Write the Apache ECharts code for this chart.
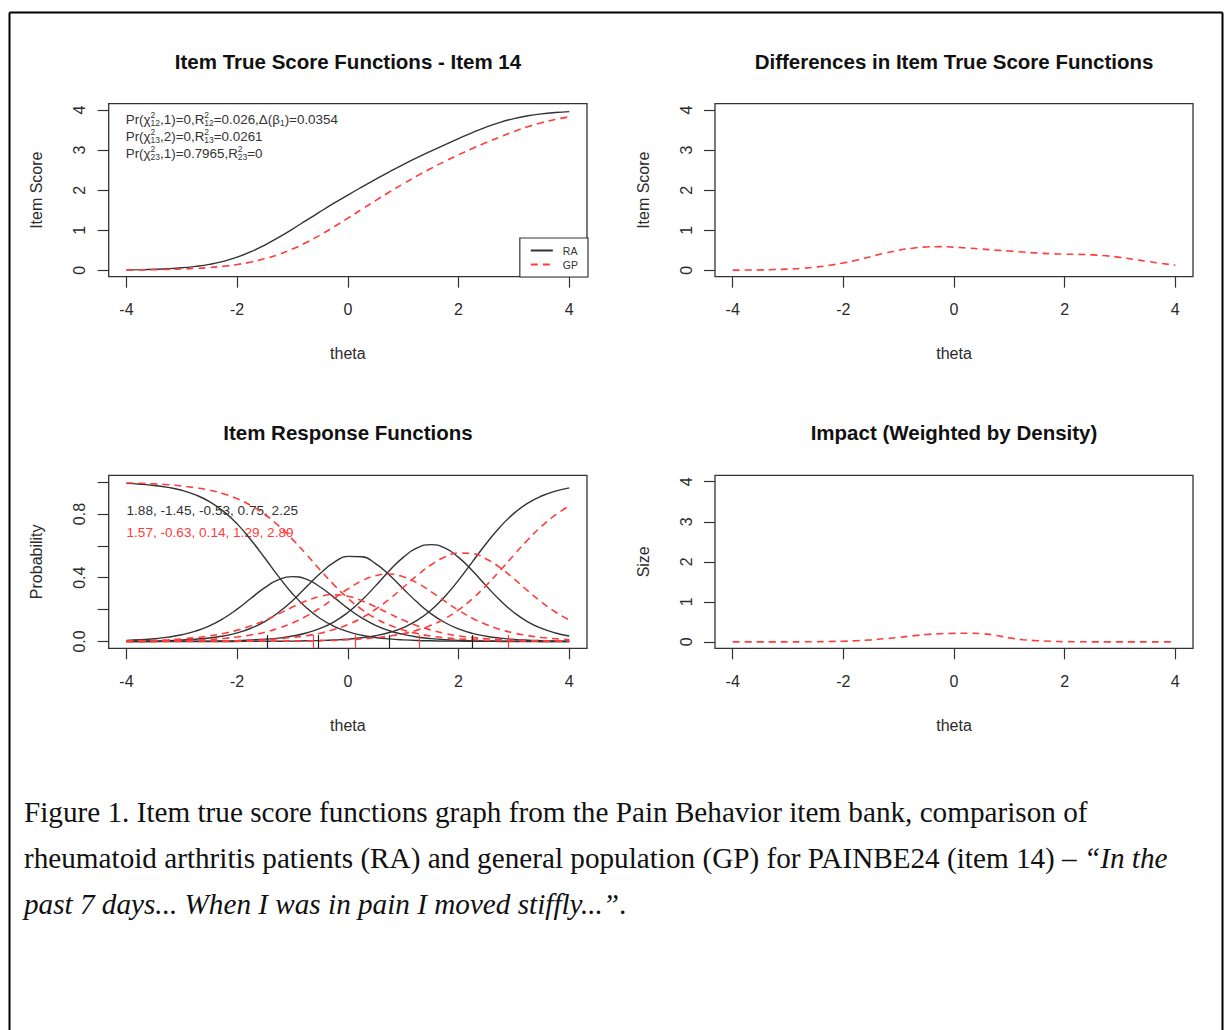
<!DOCTYPE html>
<html><head><meta charset="utf-8">
<script src="https://cdn.jsdelivr.net/npm/echarts@6/dist/echarts.min.js"></script>
<style>html,body{margin:0;padding:0;background:#fff}#c{width:1231px;height:1030px}</style>
</head><body><div id="c"></div>
<script>
// ---------- data ----------
const theta = [-4,-3.75,-3.5,-3.25,-3,-2.75,-2.5,-2.25,-2,-1.75,-1.5,-1.25,-1,-0.75,-0.5,-0.25,0,0.25,0.5,0.75,1,1.25,1.5,1.75,2,2.25,2.5,2.75,3,3.25,3.5,3.75,4];
const thetaTicks = [-4,-2,0,2,4];
const scoreTicks = [0,1,2,3,4];
const probTicks = [0,0.2,0.4,0.6,0.8,1.0];
const probLabels = [0,0.4,0.8];

const raScore = [0.010,0.016,0.025,0.039,0.062,0.097,0.148,0.224,0.328,0.464,0.631,0.822,1.030,1.246,1.463,1.675,1.879,2.077,2.270,2.458,2.639,2.811,2.975,3.133,3.288,3.438,3.576,3.694,3.788,3.858,3.907,3.940,3.962];
const gpScore = [0.007,0.010,0.015,0.022,0.032,0.047,0.069,0.100,0.144,0.205,0.288,0.395,0.531,0.694,0.881,1.086,1.301,1.521,1.740,1.954,2.159,2.357,2.543,2.719,2.885,3.041,3.190,3.332,3.465,3.584,3.686,3.769,3.834];
const scoreDiff = [0.003,0.006,0.010,0.018,0.030,0.049,0.080,0.124,0.184,0.259,0.343,0.427,0.499,0.552,0.583,0.590,0.578,0.555,0.530,0.504,0.480,0.455,0.431,0.414,0.403,0.397,0.385,0.362,0.323,0.274,0.221,0.171,0.128];
const impact = [0,0,0,0,0.001,0.002,0.005,0.010,0.017,0.030,0.050,0.080,0.110,0.150,0.185,0.205,0.212,0.215,0.205,0.165,0.100,0.055,0.030,0.015,0.007,0.003,0.001,0,0,0,0,0,0];

const raCat1 = [0.992,0.987,0.979,0.967,0.949,0.920,0.878,0.818,0.738,0.637,0.524,0.407,0.300,0.212,0.144,0.095,0.062,0.039,0.025,0.016,0.010,0.006,0.004,0.002,0.002,0.001,0.001,0,0,0,0,0,0];
const raCat2 = [0.007,0.011,0.017,0.027,0.042,0.065,0.098,0.144,0.203,0.271,0.338,0.388,0.407,0.391,0.342,0.277,0.208,0.148,0.101,0.067,0.044,0.028,0.018,0.011,0.007,0.004,0.003,0.002,0.001,0.001,0,0,0];
const raCat3 = [0.001,0.002,0.003,0.005,0.009,0.014,0.022,0.034,0.054,0.083,0.125,0.183,0.256,0.342,0.427,0.496,0.534,0.532,0.489,0.417,0.331,0.247,0.175,0.119,0.079,0.051,0.033,0.021,0.013,0.008,0.005,0.003,0.002];
const raCat4 = [0,0,0,0.001,0.001,0.001,0.002,0.003,0.005,0.009,0.014,0.021,0.034,0.053,0.082,0.123,0.182,0.258,0.349,0.444,0.528,0.587,0.608,0.587,0.528,0.444,0.349,0.258,0.182,0.123,0.082,0.053,0.034];
const raCat5 = [0,0,0,0,0,0,0,0,0,0.001,0.001,0.001,0.002,0.004,0.006,0.009,0.014,0.023,0.036,0.056,0.087,0.132,0.196,0.281,0.385,0.500,0.615,0.719,0.804,0.868,0.913,0.944,0.964];

const gpCat1 = [0.995,0.993,0.989,0.984,0.976,0.965,0.950,0.927,0.896,0.853,0.797,0.726,0.641,0.547,0.449,0.355,0.271,0.201,0.145,0.103,0.072,0.050,0.034,0.023,0.016,0.011,0.007,0.005,0.003,0.002,0.002,0.001,0.001];
const gpCat2 = [0.004,0.005,0.008,0.011,0.016,0.024,0.035,0.050,0.071,0.098,0.133,0.173,0.216,0.255,0.283,0.293,0.284,0.256,0.217,0.175,0.134,0.099,0.072,0.051,0.035,0.024,0.017,0.011,0.008,0.005,0.004,0.002,0.002];
const gpCat3 = [0.001,0.002,0.003,0.004,0.006,0.009,0.013,0.019,0.028,0.041,0.058,0.083,0.116,0.159,0.211,0.270,0.329,0.380,0.413,0.423,0.406,0.367,0.313,0.253,0.196,0.146,0.106,0.075,0.053,0.037,0.025,0.017,0.012];
const gpCat4 = [0,0,0.001,0.001,0.001,0.002,0.002,0.004,0.005,0.008,0.011,0.017,0.025,0.036,0.052,0.075,0.106,0.148,0.202,0.266,0.339,0.414,0.480,0.530,0.555,0.551,0.518,0.463,0.393,0.318,0.247,0.185,0.135];
const gpCat5 = [0,0,0,0,0,0,0,0,0.001,0.001,0.001,0.002,0.002,0.003,0.005,0.007,0.011,0.016,0.023,0.034,0.049,0.071,0.101,0.143,0.198,0.268,0.352,0.445,0.543,0.638,0.723,0.794,0.851];

const raParams = [1.88, -1.45, -0.53, 0.75, 2.25];
const gpParams = [1.57, -0.63, 0.14, 1.29, 2.89];

// ---------- styling ----------
const F = '"Liberation Sans", Arial, Helvetica, sans-serif';
const SERIF = '"Liberation Serif", "Times New Roman", serif';
const INK = '#2b2b2b';
const BLACK = '#333333';
const RED = '#ff3b3b';

const pairs = a => theta.map((t, i) => [t, a[i]]);

const gridBoxes = [
  {left: 108.7, top: 103.7, width: 478.3, height: 173},
  {left: 715,   top: 103.7, width: 478,   height: 173},
  {left: 108.7, top: 475.3, width: 478.3, height: 173},
  {left: 715,   top: 475.3, width: 478,   height: 173}
];
const grids = gridBoxes.map(g => Object.assign({show: true, borderColor: '#333', borderWidth: 1.3, backgroundColor: 'transparent'}, g));

function xAx(gi) {
  return {
    gridIndex: gi, type: 'value', min: -4.32, max: 4.32,
    axisLine: {show: false, onZero: false}, splitLine: {show: false},
    axisTick: {show: true, customValues: thetaTicks, length: 11, lineStyle: {color: '#333', width: 1.2}},
    axisLabel: {customValues: thetaTicks, margin: 25, fontSize: 16, color: INK, fontFamily: F},
    name: 'theta', nameLocation: 'middle', nameGap: 69,
    nameTextStyle: {fontSize: 16, color: INK, fontFamily: F}
  };
}
function yAx(gi, min, max, ticks, labels, name, fmt) {
  return {
    gridIndex: gi, type: 'value', min: min, max: max,
    axisLine: {show: false, onZero: false}, splitLine: {show: false},
    axisTick: {show: true, customValues: ticks, length: 11, lineStyle: {color: '#333', width: 1.2}},
    axisLabel: {customValues: labels, rotate: 90, margin: 21, fontSize: 16, color: INK, fontFamily: F, formatter: fmt},
    name: name, nameLocation: 'middle', nameGap: 64,
    nameTextStyle: {fontSize: 16, color: INK, fontFamily: F}
  };
}

function solid(name, gi, arr) {
  return {type: 'line', name: name, xAxisIndex: gi, yAxisIndex: gi, data: pairs(arr),
    symbol: 'none', showSymbol: false, smooth: true, silent: true,
    lineStyle: {color: BLACK, width: 1.4, type: 'solid'}, itemStyle: {color: BLACK}};
}
function dashed(name, gi, arr) {
  return {type: 'line', name: name, xAxisIndex: gi, yAxisIndex: gi, data: pairs(arr),
    symbol: 'none', showSymbol: false, smooth: true, silent: true,
    lineStyle: {color: RED, width: 1.6, type: [7, 5]}, itemStyle: {color: RED}};
}
function rug(vals, color) {
  return {silent: true, symbol: 'none', animation: false, label: {show: false},
    lineStyle: {color: color, width: 1.2, type: 'solid'},
    data: vals.map(v => [{coord: [v, -0.043]}, {coord: [v, 0.04]}])};
}

const raCurve1 = solid('RA cat 1', 2, raCat1); raCurve1.markLine = rug(raParams.slice(1), '#222');
const gpCurve1 = dashed('GP cat 1', 2, gpCat1); gpCurve1.markLine = rug(gpParams.slice(1), RED);

const series = [
  solid('RA', 0, raScore),
  dashed('GP', 0, gpScore),
  dashed('Difference', 1, scoreDiff),
  raCurve1, solid('RA cat 2', 2, raCat2), solid('RA cat 3', 2, raCat3), solid('RA cat 4', 2, raCat4), solid('RA cat 5', 2, raCat5),
  gpCurve1, dashed('GP cat 2', 2, gpCat2), dashed('GP cat 3', 2, gpCat3), dashed('GP cat 4', 2, gpCat4), dashed('GP cat 5', 2, gpCat5),
  dashed('Impact', 3, impact)
];

// ---------- free text ----------
function txt(x, y, text, font, fill, align) {
  return {type: 'text', x: x, y: y, silent: true,
    style: {text: text, font: font, fill: fill, align: align || 'left', verticalAlign: 'middle',
            textAlign: align || 'left', textVerticalAlign: 'middle'}};
}
const annoRich = {
  n:  {fontSize: 13.4, fontFamily: F, fill: '#333', color: '#333', lineHeight: 17, verticalAlign: 'middle'},
  sp: {fontSize: 8.5, fontFamily: F, fill: '#333', color: '#333', lineHeight: 8.5, width: 0, verticalAlign: 'top'},
  sb: {fontSize: 8.5, fontFamily: F, fill: '#333', color: '#333', lineHeight: 8.5, verticalAlign: 'bottom'}
};
function anno(y, text) {
  return {type: 'text', x: 125.7, y: y, silent: true,
    style: {text: text, rich: annoRich, align: 'left', verticalAlign: 'middle', textAlign: 'left', textVerticalAlign: 'middle'}};
}
const CAP = 29.2;
const capRich = {
  n: {fontSize: CAP, fontFamily: SERIF, fill: '#111', color: '#111'},
  i: {fontSize: CAP, fontFamily: SERIF, fontStyle: 'italic', fill: '#111', color: '#111'}
};
function cap(y, text) {
  return {type: 'text', x: 24, y: y, silent: true,
    style: {text: text, rich: capRich, align: 'left', verticalAlign: 'middle', textAlign: 'left', textVerticalAlign: 'middle'}};
}
const TF = 'bold 20.5px ' + F;
const graphic = [
  {type: 'line', silent: true, shape: {x1: 9.5, y1: 12.5, x2: 9.5, y2: 1030}, style: {stroke: '#000', lineWidth: 2}},
  {type: 'line', silent: true, shape: {x1: 9.5, y1: 12.5, x2: 1222.5, y2: 12.5}, style: {stroke: '#000', lineWidth: 2}},
  {type: 'line', silent: true, shape: {x1: 1222.5, y1: 12.5, x2: 1222.5, y2: 1030}, style: {stroke: '#000', lineWidth: 2}},
  txt(348, 61, 'Item True Score Functions - Item 14', TF, '#111', 'center'),
  txt(954, 61, 'Differences in Item True Score Functions', TF, '#111', 'center'),
  txt(348, 432.7, 'Item Response Functions', TF, '#111', 'center'),
  txt(954, 432.7, 'Impact (Weighted by Density)', TF, '#111', 'center'),
  anno(119, '{n|Pr(χ}{sp|2}{sb|12}{n|,1)=0,R}{sp|2}{sb|12}{n|=0.026,Δ(β}{sb|1}{n|)=0.0354}'),
  anno(136, '{n|Pr(χ}{sp|2}{sb|13}{n|,2)=0,R}{sp|2}{sb|13}{n|=0.0261}'),
  anno(153, '{n|Pr(χ}{sp|2}{sb|23}{n|,1)=0.7965,R}{sp|2}{sb|23}{n|=0}'),
  txt(126.5, 510, raParams.join(', '), '13.6px ' + F, '#333'),
  txt(126.5, 532, gpParams.join(', '), '13.6px ' + F, RED),
  cap(812, '{n|Figure 1. Item true score functions graph from the Pain Behavior item bank, comparison of}'),
  cap(858, '{n|rheumatoid arthritis patients (RA) and general population (GP) for PAINBE24 (item 14) – }{i|“In the}'),
  cap(904, '{i|past 7 days... When I was in pain I moved stiffly...”}{n|.}')
];

const option = {
  animation: false,
  backgroundColor: '#fff',
  textStyle: {fontFamily: F},
  grid: grids,
  xAxis: [xAx(0), xAx(1), xAx(2), xAx(3)],
  yAxis: [
    yAx(0, -0.16, 4.16, scoreTicks, scoreTicks, 'Item Score'),
    yAx(1, -0.16, 4.16, scoreTicks, scoreTicks, 'Item Score'),
    yAx(2, -0.043, 1.043, probTicks, probLabels, 'Probability', v => v.toFixed(1)),
    yAx(3, -0.16, 4.16, scoreTicks, scoreTicks, 'Size')
  ],
  legend: {
    data: ['RA', 'GP'], orient: 'vertical', right: 643, bottom: 753,
    backgroundColor: '#fff', borderColor: '#333', borderWidth: 1.2, borderRadius: 0,
    padding: [7, 10, 7, 10], itemGap: 3, itemWidth: 22, itemHeight: 11,
    selectedMode: false,
    itemStyle: {opacity: 0, borderWidth: 0},
    textStyle: {fontSize: 10.5, color: '#333', fontFamily: F, padding: [0, 0, 0, 5]}
  },
  series: series,
  graphic: graphic
};
const chart = echarts.init(document.getElementById('c'), null, {renderer: 'svg'});
chart.setOption(option);
</script></body></html>
